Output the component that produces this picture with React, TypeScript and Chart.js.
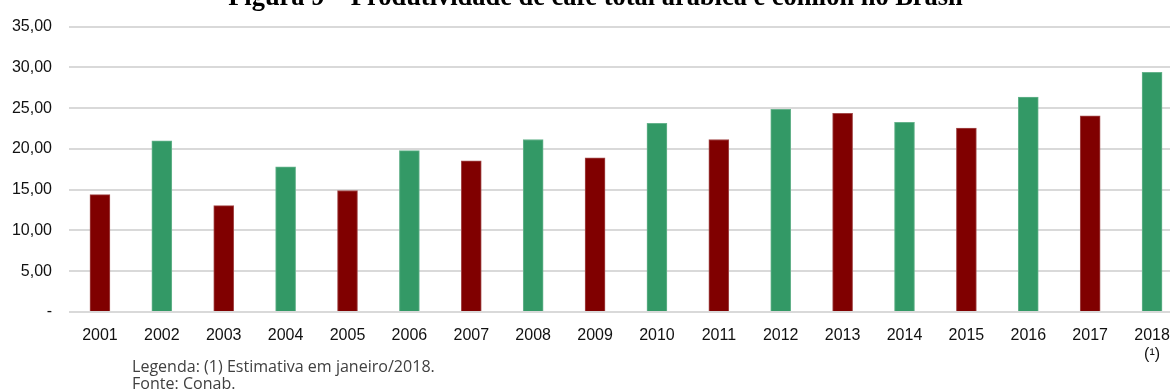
import { useEffect, useRef } from "react";
import { Chart, registerables } from "chart.js";

Chart.register(...registerables);

const years = [
  "2001", "2002", "2003", "2004", "2005", "2006", "2007", "2008", "2009",
  "2010", "2011", "2012", "2013", "2014", "2015", "2016", "2017",
];
const lastYearLabel = ["2018", "(¹)"];
const productivity = [
  14.4, 21.0, 13.05, 17.8, 14.9, 19.8, 18.55, 21.15, 18.9,
  23.15, 21.15, 24.85, 24.35, 23.25, 22.55, 26.35, 24.05, 29.4,
];
const yTickLabels = ["-", "5,00", "10,00", "15,00", "20,00", "25,00", "30,00", "35,00"];
const titleText = "Figura 9 – Produtividade de café total arábica e conilon no Brasil";
const noteLines = ["Legenda: (1) Estimativa em janeiro/2018.", "Fonte: Conab."];

const RED = "#800000";
const GREEN = "#339966";
const RED_EDGE = "#a34a4a";
const GREEN_EDGE = "#66b38c";

const textPlugin = {
  id: "extraTexts",
  afterDraw(chart: any) {
    const ctx = chart.ctx as CanvasRenderingContext2D;
    ctx.save();
    ctx.fillStyle = "#000000";
    ctx.font = 'bold 18px "Liberation Serif"';
    const w = ctx.measureText(titleText).width;
    const size = (18 * 735) / w;
    ctx.font = `bold ${size}px "Liberation Serif"`;
    ctx.textAlign = "center";
    ctx.textBaseline = "alphabetic";
    ctx.fillText(titleText, 595.5, 5);

    ctx.fillStyle = "#404040";
    ctx.font = '15px "Open Sans"';
    const nw = ctx.measureText(noteLines[0]).width;
    const ns = (15 * 303) / nw;
    ctx.font = `${ns}px "Open Sans"`;
    ctx.textAlign = "left";
    ctx.fillText(noteLines[0], 132, 372);
    ctx.fillText(noteLines[1], 132, 389);
    ctx.restore();
  },
};

export default function App() {
  const canvasRef = useRef<HTMLCanvasElement | null>(null);

  useEffect(() => {
    document.body.style.margin = "0";
    const canvas = canvasRef.current;
    if (!canvas) return;
    const labels: any[] = [...years, lastYearLabel];
    const colors = productivity.map((_, i) => (i % 2 === 0 ? RED : GREEN));
    const edges = productivity.map((_, i) => (i % 2 === 0 ? RED_EDGE : GREEN_EDGE));
    const chart = new Chart(canvas, {
      type: "bar",
      data: {
        labels,
        datasets: [
          {
            data: productivity,
            backgroundColor: colors,
            borderColor: edges,
            borderWidth: 1,
            barThickness: 20,
          },
        ],
      },
      plugins: [textPlugin],
      options: {
        responsive: false,
        animation: false,
        devicePixelRatio: 1,
        layout: { padding: { top: 24, right: 7, bottom: 0, left: 0 } },
        plugins: {
          legend: { display: false },
          tooltip: { enabled: false },
          title: { display: false },
        },
        scales: {
          x: {
            grid: { display: false },
            border: { display: false },
            ticks: {
              color: "#111111",
              font: { family: '"Liberation Sans"', size: 16 },
              padding: 6,
              maxRotation: 0,
              autoSkip: false,
            },
            afterFit: (scale: any) => {
              scale.height = 80;
            },
          },
          y: {
            min: 0,
            max: 35,
            grid: { color: "#d9d9d9", lineWidth: 2, drawTicks: false },
            border: { display: false },
            ticks: {
              stepSize: 5,
              color: "#111111",
              font: { family: '"Liberation Sans"', size: 16 },
              padding: 17,
              callback: (_v: any, i: number) => yTickLabels[i],
            },
            afterFit: (scale: any) => {
              scale.width = 69;
            },
          },
        },
      },
    });
    return () => chart.destroy();
  }, []);

  return (
    <div style={{ width: 1170, height: 392, overflow: "hidden", position: "relative" }}>
      <canvas ref={canvasRef} width={1190} height={392} style={{ width: 1190, height: 392 }} />
    </div>
  );
}
